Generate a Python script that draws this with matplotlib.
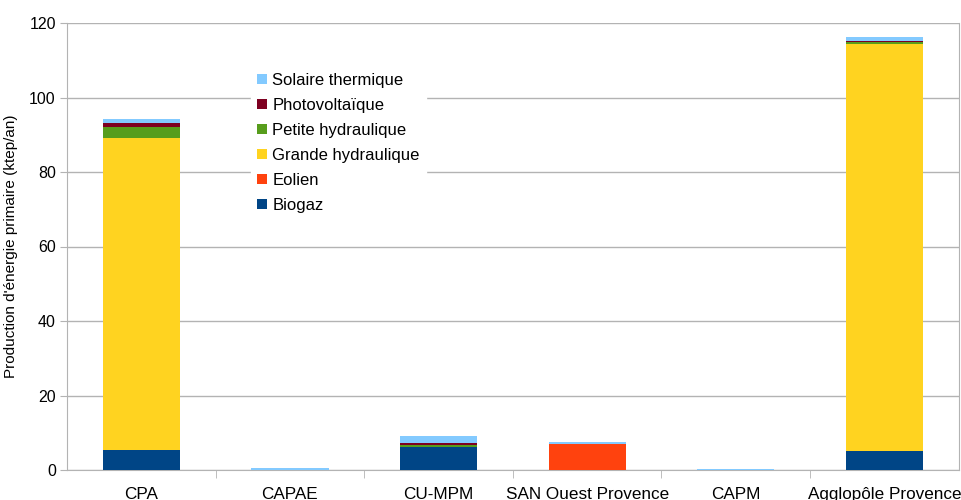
import numpy as np
import matplotlib.pyplot as plt

plt.rcParams['font.family'] = ['Liberation Sans', 'DejaVu Sans']

# Categories and stacked series (ktep/an)
categories = ['CPA', 'CAPAE', 'CU-MPM', 'SAN Ouest Provence', 'CAPM', 'Agglopôle Provence']
biogaz = [5.4, 0.0, 6.3, 0.0, 0.0, 5.0]
eolien = [0.0, 0.0, 0.0, 6.9, 0.0, 0.0]
grande_hydraulique = [83.7, 0.0, 0.0, 0.0, 0.0, 109.4]
petite_hydraulique = [2.9, 0.0, 0.5, 0.0, 0.0, 0.6]
photovoltaique = [1.1, 0.0, 0.45, 0.0, 0.0, 0.1]
solaire_thermique = [1.2, 0.5, 1.9, 0.7, 0.3, 1.1]

series = [
    ('Biogaz', biogaz, '#004586'),
    ('Eolien', eolien, '#ff420e'),
    ('Grande hydraulique', grande_hydraulique, '#ffd320'),
    ('Petite hydraulique', petite_hydraulique, '#579d1c'),
    ('Photovoltaïque', photovoltaique, '#7e0021'),
    ('Solaire thermique', solaire_thermique, '#83caff'),
]

fig = plt.figure(figsize=(9.62, 5.0), dpi=100)
ax = fig.add_axes([0.0696, 0.06, 0.927, 0.894])

x = np.arange(len(categories))
bottom = np.zeros(len(categories))
handles = []
for name, vals, color in series:
    vals = np.array(vals)
    b = ax.bar(x, vals, width=0.52, bottom=bottom, color=color, label=name, zorder=3)
    handles.append(b)
    bottom += vals

ax.set_xlim(-0.5, len(categories) - 0.5)
ax.set_ylim(0, 120)
ax.set_yticks(np.arange(0, 121, 20))
ax.yaxis.grid(True, color='#b3b3b3', linewidth=1, zorder=0)

ax.set_xticks(x)
ax.set_xticklabels(categories, fontsize=12.3)
ax.set_xticks(np.arange(0.5, len(categories) - 0.5, 1), minor=True)
ax.tick_params(axis='x', which='major', length=0, pad=12)
ax.tick_params(axis='x', which='minor', length=6, color='#b3b3b3', direction='out')
ax.tick_params(axis='y', length=5, color='#b3b3b3', labelsize=11.5, pad=3)

for s in ax.spines.values():
    s.set_color('#b3b3b3')
ax.spines['top'].set_visible(False)

ax.set_ylabel("Production d'énergie primaire (ktep/an)", fontsize=11, labelpad=8)

leg = ax.legend(handles[::-1], [s[0] for s in series[::-1]],
                loc='upper left', bbox_to_anchor=(0.252, 0.884), bbox_transform=fig.transFigure,
                frameon=True, fontsize=12, handlelength=0.6, handleheight=0.6,
                handletextpad=0.3, labelspacing=0.6, borderpad=0.4)
leg.get_frame().set_edgecolor('white')
leg.get_frame().set_facecolor('white')
leg.get_frame().set_alpha(1)
leg.get_frame().set_boxstyle('square', pad=0)
leg.set_zorder(5)

fig.savefig('out.png', dpi=100)
